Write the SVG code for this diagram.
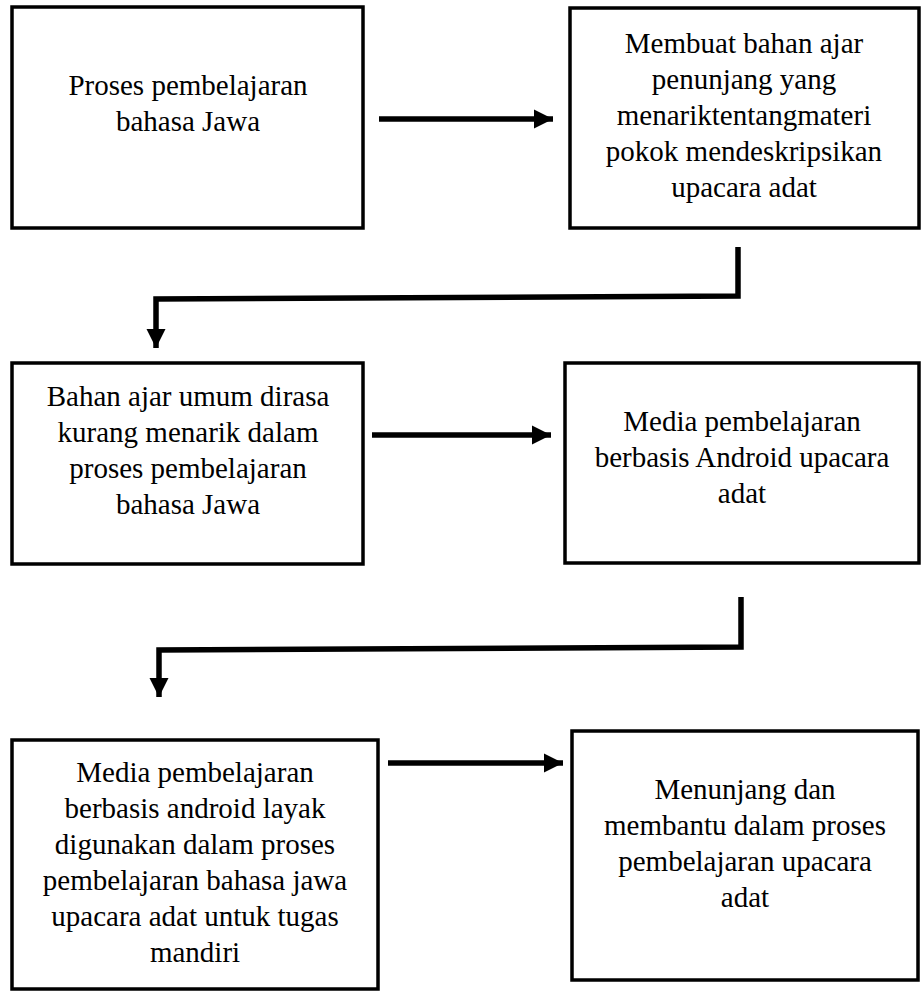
<svg xmlns="http://www.w3.org/2000/svg" width="921" height="991" viewBox="0 0 921 991">
<style>
.box{fill:#fff;stroke:#000;stroke-width:3.5}
.c{fill:none;stroke:#000;stroke-width:5.5}
</style>
<defs>
<marker id="ah" viewBox="0 0 10 10" refX="10" refY="5" markerWidth="3.5" markerHeight="3.5" markerUnits="strokeWidth" orient="auto">
<path d="M0,0 L10,5 L0,10 z" fill="#000"/>
</marker>
</defs>
<rect width="921" height="991" fill="#fff"/>
<g font-family="Liberation Serif, Times New Roman, DejaVu Serif, serif" font-size="29" fill="#000" text-anchor="middle">
<g id="n1">
<rect class="box" x="12" y="7" width="351" height="221"/>
<text x="188" y="95">Proses pembelajaran</text>
<text x="188" y="131">bahasa Jawa</text>
</g>
<g id="n2">
<rect class="box" x="570" y="8" width="349" height="220"/>
<text x="744" y="53">Membuat bahan ajar</text>
<text x="744" y="89">penunjang yang</text>
<text x="744" y="125">menariktentangmateri</text>
<text x="744" y="161">pokok mendeskripsikan</text>
<text x="744" y="197">upacara adat</text>
</g>
<g id="n3">
<rect class="box" x="12" y="363" width="351" height="201"/>
<text x="188" y="406">Bahan ajar umum dirasa</text>
<text x="188" y="442">kurang menarik dalam</text>
<text x="188" y="478">proses pembelajaran</text>
<text x="188" y="514">bahasa Jawa</text>
</g>
<g id="n4">
<rect class="box" x="565" y="363" width="354" height="200"/>
<text x="742" y="431">Media pembelajaran</text>
<text x="742" y="467">berbasis Android upacara</text>
<text x="742" y="503">adat</text>
</g>
<g id="n5">
<rect class="box" x="12" y="740" width="366" height="249"/>
<text x="195" y="782">Media pembelajaran</text>
<text x="195" y="818">berbasis android layak</text>
<text x="195" y="854">digunakan dalam proses</text>
<text x="195" y="890">pembelajaran bahasa jawa</text>
<text x="195" y="926">upacara adat untuk tugas</text>
<text x="195" y="962">mandiri</text>
</g>
<g id="n6">
<rect class="box" x="572" y="731" width="346" height="249"/>
<text x="745" y="799">Menunjang dan</text>
<text x="745" y="835">membantu dalam proses</text>
<text x="745" y="871">pembelajaran upacara</text>
<text x="745" y="907">adat</text>
</g>
</g>
<g id="connectors">
<path class="c" d="M379,119 H553" marker-end="url(#ah)"/>
<path class="c" d="M738,247 V296 L156,299 V348" marker-end="url(#ah)"/>
<path class="c" d="M372,435 H551" marker-end="url(#ah)"/>
<path class="c" d="M741,597 V647 L159,650 V697" marker-end="url(#ah)"/>
<path class="c" d="M388,763 H563" marker-end="url(#ah)"/>
</g>
</svg>
